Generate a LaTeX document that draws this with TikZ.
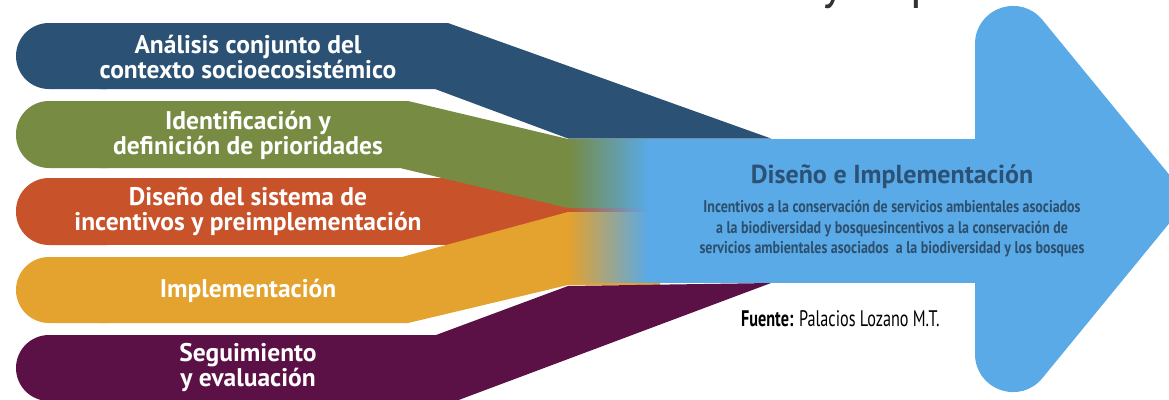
\documentclass[tikz,border=0pt]{standalone}
\usepackage{fontspec}
\setmainfont{PT Sans}
\newfontfamily\condfont[FakeStretch=0.82]{PT Sans}
\newfontfamily\srcfont[FakeStretch=0.72]{PT Sans}
\definecolor{cone}{HTML}{2B5274}
\definecolor{ctwo}{HTML}{778B43}
\definecolor{cthree}{HTML}{C8532B}
\definecolor{cfour}{HTML}{E4A22E}
\definecolor{cfive}{HTML}{5B1046}
\definecolor{arrowblue}{HTML}{5AAAE7}
\definecolor{titlec}{HTML}{2B5276}
\definecolor{subc}{HTML}{2D4F6E}
\definecolor{topc}{HTML}{333333}
\tikzset{
  bandtext/.style={text=white, align=center, font=\bfseries\fontsize{25.5}{25}\selectfont, inner sep=0pt},
  bandend/.style={rounded corners=33},
}
\begin{document}
\begin{tikzpicture}[x=1pt,y=-1pt]
\useasboundingbox (0,0) rectangle (1169,399);
\clip (0,0) rectangle (1169,399);

% cut-off title letters at the top
\node[anchor=base west, text=topc, font=\fontsize{50}{50}\selectfont, inner sep=0pt] (topy) at (821,-2) {y};
\node[anchor=base west, text=topc, font=\fontsize{50}{50}\selectfont, inner sep=0pt] (topp) at (910,-2) {p};

% band 3 (orange) lies underneath
\fill[cthree, bandend] (16,178) rectangle (140,245);
\fill[cthree] (100,178) -- (660,178) -- (660,245) -- (100,245) -- cycle;

% band 1 (dark blue)
\fill[cone, bandend] (16,23) rectangle (140,89);
\fill[cone] (100,23) -- (448,23) -- (771,138.5) -- (568,138.5) -- (435,89) -- (100,89) -- cycle;

% band 2 (green)
\fill[ctwo, bandend] (16,101) rectangle (140,168);
\fill[ctwo] (100,101) -- (408,101) -- (568,139) -- (660,139) -- (660,208) -- (568,208) -- (400,168) -- (100,168) -- cycle;

% band 4 (yellow)
\fill[cfour, bandend] (16,257) rectangle (140,323);
\fill[cfour] (100,257) -- (402,257) -- (568,212) -- (660,212) -- (660,285) -- (568,285) -- (408,323) -- (100,323) -- cycle;

% band 5 (purple)
\fill[cfive, bandend] (16,335) rectangle (140,401);
\fill[cfive] (100,335) -- (436,335) -- (568,286) -- (771,283) -- (456,401) -- (100,401) -- cycle;

% fading start of the arrow shaft
\foreach \i [evaluate=\i as \op using \i/40] in {0,...,40}
  \fill[arrowblue, opacity=\op] (568+2*\i,139) rectangle ++(2.3,144);

% arrow shaft and head
\fill[arrowblue] (650,139) rectangle (1015,283);
\filldraw[arrowblue, line width=76, line join=round] (1013,44) -- (1140,199) -- (1013,354) -- cycle;

% band texts
\node[bandtext] (t1) at (248,57) {Análisis conjunto del\\contexto socioecosistémico};
\node[bandtext] (t2) at (248,135) {Identificación y\\definición de prioridades};
\node[bandtext] (t3) at (248,211) {Diseño del sistema de\\incentivos y preimplementación};
\node[bandtext] (t4) at (248,291) {Implementación};
\node[bandtext] (t5) at (248,368) {Seguimiento\\y evaluación};

% arrow texts
\node[text=titlec, font=\bfseries\fontsize{26}{28}\selectfont, inner sep=0pt] (title) at (892,177) {Diseño e Implementación};
\node[text=subc, align=center, font=\condfont\bfseries\fontsize{17}{20.5}\selectfont, inner sep=0pt] (desc) at (892,229)
  {Incentivos a la conservación de servicios ambientales asociados\\
   a la biodiversidad y bosquesincentivos a la conservación de\\
   servicios ambientales asociados\ \ a la biodiversidad y los bosques};
\node[anchor=base west, text=black, font=\srcfont\fontsize{22.5}{24}\selectfont, inner sep=0pt] (src) at (741,326)
  {\textbf{Fuente:} Palacios Lozano M.T.};
\end{tikzpicture}
\end{document}
